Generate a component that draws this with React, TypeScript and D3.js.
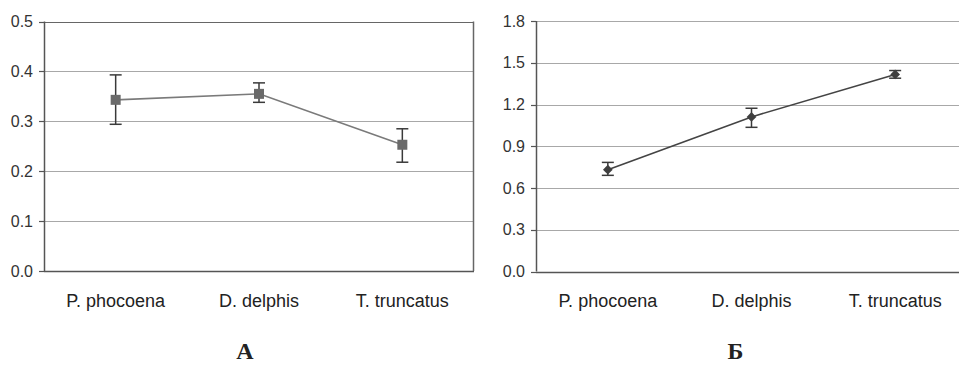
import React from "react";
import * as d3 from "d3";

const categories = ["P. phocoena", "D. delphis", "T. truncatus"];
const meanA = [0.343, 0.355, 0.253];
const lowA = [0.294, 0.338, 0.218];
const highA = [0.393, 0.377, 0.285];
const ticksA = [0, 0.1, 0.2, 0.3, 0.4, 0.5];

const meanB = [0.732, 1.111, 1.416];
const lowB = [0.691, 1.036, 1.389];
const highB = [0.784, 1.173, 1.444];
const ticksB = [0, 0.3, 0.6, 0.9, 1.2, 1.5, 1.8];

const panelLabels = ["А", "Б"];

const FONT = "'Liberation Sans', Arial, sans-serif";

type PanelProps = {
  x0: number; x1: number; y0: number; y1: number; yMax: number;
  ticks: number[]; mean: number[]; low: number[]; high: number[];
  marker: "square" | "diamond"; lineColor: string; markerColor: string;
  box: boolean; label: string; labelX: number;
};

function Panel(p: PanelProps) {
  const x = d3.scaleBand<string>().domain(categories).range([p.x0, p.x1]);
  const y = d3.scaleLinear().domain([0, p.yMax]).range([p.y0, p.y1]);
  const cx = (c: string) => (x(c) as number) + x.bandwidth() / 2;
  const line = d3.line<number>().x((_, i) => cx(categories[i])).y((v) => y(v));
  const diamond = d3.symbol().type(d3.symbolDiamond2).size(60)();
  return (
    <g>
      {p.ticks.map((t) => (
        <g key={t}>
          <line x1={p.x0} x2={p.x1} y1={Math.round(y(t)) + 0.5} y2={Math.round(y(t)) + 0.5}
            stroke={t === 0 ? "#555" : p.box && t === p.yMax ? "#666" : "#a8a8a8"} strokeWidth={t === 0 ? 1.5 : 1.2} />
          <line x1={p.x0 - 5} x2={p.x0} y1={Math.round(y(t)) + 0.5} y2={Math.round(y(t)) + 0.5} stroke="#555" strokeWidth={1.2} />
          <text x={p.x0 - 11} y={y(t)} dy="0.35em" textAnchor="end" fontFamily={FONT} fontSize={16} fill="#333">
            {d3.format(".1f")(t)}
          </text>
        </g>
      ))}
      <line x1={p.x0 + 0.5} x2={p.x0 + 0.5} y1={p.y1} y2={p.y0} stroke="#555" strokeWidth={1.5} />
      {p.box && <line x1={p.x1 - 0.5} x2={p.x1 - 0.5} y1={p.y1} y2={p.y0} stroke="#666" strokeWidth={1.5} />}
      <path d={line(p.mean) || ""} fill="none" stroke={p.lineColor} strokeWidth={1.6} />
      {categories.map((c, i) => (
        <g key={c}>
          <line x1={cx(c)} x2={cx(c)} y1={y(p.low[i])} y2={y(p.high[i])} stroke="#3a3a3a" strokeWidth={1.5} />
          <line x1={cx(c) - 6} x2={cx(c) + 6} y1={y(p.low[i])} y2={y(p.low[i])} stroke="#3a3a3a" strokeWidth={1.5} />
          <line x1={cx(c) - 6} x2={cx(c) + 6} y1={y(p.high[i])} y2={y(p.high[i])} stroke="#3a3a3a" strokeWidth={1.5} />
          {p.marker === "square" ? (
            <rect x={cx(c) - 5} y={y(p.mean[i]) - 5} width={10} height={10} fill={p.markerColor} />
          ) : (
            <path d={diamond || ""} transform={`translate(${cx(c)},${y(p.mean[i])})`} fill={p.markerColor} />
          )}
          <text x={cx(c)} y={307} textAnchor="middle" fontFamily={FONT} fontSize={18} fill="#222">
            {c}
          </text>
        </g>
      ))}
      <text x={p.labelX} y={359} textAnchor="middle" fontFamily="'Liberation Serif', 'Times New Roman', serif"
        fontWeight="bold" fontSize={24} fill="#222">
        {p.label}
      </text>
    </g>
  );
}

export default function App() {
  return (
    <svg width={959} height={365} style={{ position: "absolute", left: 0, top: 0, background: "#fff" }}>
      <rect width={959} height={365} fill="#fff" />
      <Panel x0={44} x1={474} y0={271} y1={21.5} yMax={0.5} ticks={ticksA}
        mean={meanA} low={lowA} high={highA} marker="square" lineColor="#7a7a7a" markerColor="#6a6a6a"
        box={true} label={panelLabels[0]} labelX={245} />
      <Panel x0={536} x1={967} y0={271.5} y1={21} yMax={1.8} ticks={ticksB}
        mean={meanB} low={lowB} high={highB} marker="diamond" lineColor="#444" markerColor="#3f3f3f"
        box={false} label={panelLabels[1]} labelX={735.5} />
    </svg>
  );
}
